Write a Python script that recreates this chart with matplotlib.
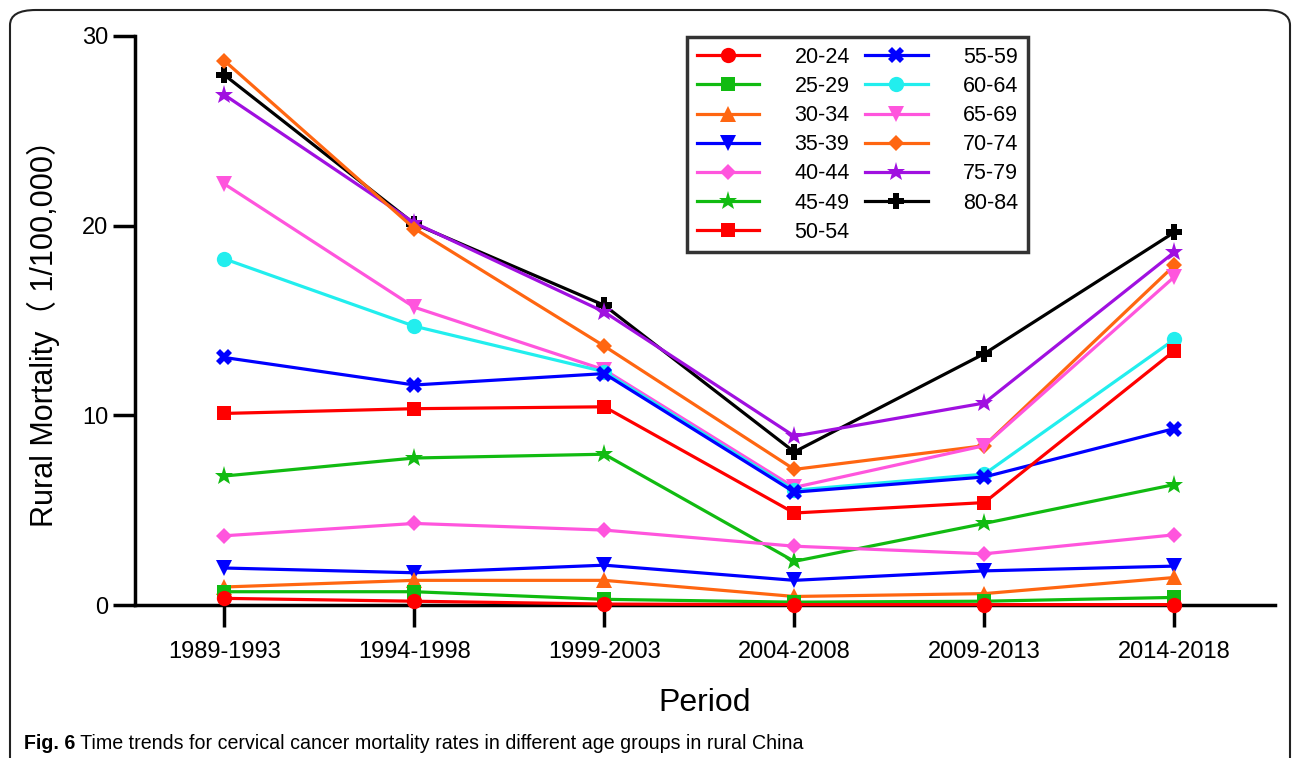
import matplotlib
matplotlib.use('Agg')
import matplotlib.pyplot as plt
from matplotlib.patches import FancyBboxPatch

plt.rcParams['font.family'] = ['Liberation Sans', 'Noto Sans CJK SC', 'DejaVu Sans']

periods = ['1989-1993', '1994-1998', '1999-2003', '2004-2008', '2009-2013', '2014-2018']

age_groups = ['20-24', '25-29', '30-34', '35-39', '40-44', '45-49', '50-54',
              '55-59', '60-64', '65-69', '70-74', '75-79', '80-84']

r_20_24 = [0.35, 0.2, 0.05, 0.02, 0.02, 0.02]
r_25_29 = [0.7, 0.7, 0.3, 0.15, 0.2, 0.4]
r_30_34 = [0.95, 1.3, 1.3, 0.45, 0.6, 1.45]
r_35_39 = [1.95, 1.7, 2.1, 1.3, 1.8, 2.05]
r_40_44 = [3.65, 4.3, 3.95, 3.1, 2.7, 3.7]
r_45_49 = [6.8, 7.75, 7.95, 2.3, 4.3, 6.35]
r_50_54 = [10.1, 10.35, 10.45, 4.85, 5.4, 13.4]
r_55_59 = [13.05, 11.6, 12.2, 5.95, 6.75, 9.3]
r_60_64 = [18.25, 14.7, 12.3, 6.05, 6.9, 14.0]
r_65_69 = [22.2, 15.7, 12.4, 6.2, 8.4, 17.3]
r_70_74 = [28.7, 19.85, 13.65, 7.15, 8.4, 17.9]
r_75_79 = [26.9, 20.15, 15.45, 8.9, 10.65, 18.6]
r_80_84 = [27.95, 20.1, 15.8, 8.07, 13.25, 19.65]

rates = [r_20_24, r_25_29, r_30_34, r_35_39, r_40_44, r_45_49, r_50_54,
         r_55_59, r_60_64, r_65_69, r_70_74, r_75_79, r_80_84]

colors = ['#ff0000', '#11bb11', '#ff6611', '#0000ff', '#ff55dd', '#11bb11', '#ff0000',
          '#0000ff', '#22eeee', '#ff55dd', '#ff6611', '#a010e0', '#000000']
markers = ['o', 's', '^', 'v', 'D', '*', 's', 'X', 'o', 'v', 'D', '*', 'P']
msizes = [11, 10, 11, 11, 8, 14, 10, 12, 11, 11, 8, 14, 11]

fig = plt.figure(figsize=(12.95, 7.58), dpi=100)

# rounded panel frame, open at the bottom
frame = FancyBboxPatch((10 / 1295, -0.05), 1280 / 1295, 1 - 10 / 758 + 0.05,
                       boxstyle='round,pad=0,rounding_size=0.02',
                       transform=fig.transFigure, fill=False,
                       edgecolor='#222222', linewidth=1.5, clip_on=False)
fig.patches.append(frame)

ax = fig.add_axes([135 / 1295, 1 - 605 / 758, 1140 / 1295, 569 / 758])

x = list(range(len(periods)))
lines = []
for i in range(len(age_groups)):
    ln, = ax.plot(x, rates[i], color=colors[i], marker=markers[i], markersize=msizes[i],
                  linewidth=2.3, markeredgewidth=0, label=age_groups[i],
                  zorder=20 - i, clip_on=False)
    lines.append(ln)

ax.set_xlim(-0.47, 5.53)
ax.set_ylim(0, 30)
ax.set_yticks([0, 10, 20, 30])
ax.set_xticks(x)
ax.set_xticklabels(periods)

for s in ['top', 'right']:
    ax.spines[s].set_visible(False)
for s in ['left', 'bottom']:
    ax.spines[s].set_linewidth(2.5)

ax.tick_params(axis='both', direction='out', length=16, width=2.5, labelsize=17)
ax.tick_params(axis='x', pad=10)
ax.tick_params(axis='y', pad=3)

ax.set_xlabel('Period', fontsize=23)
ax.xaxis.set_label_coords(0.5, -(688 - 605) / 569)
ax.set_ylabel('Rural Mortality（ 1/100,000）', fontsize=22)
ax.yaxis.set_label_coords(-0.066, 0.49)

leg = ax.legend(handles=lines, ncol=2, loc='upper left',
                bbox_to_anchor=((687 - 135) / 1140, (605 - 37) / 569),
                borderaxespad=0, fontsize=15.5, frameon=True, fancybox=False,
                handlelength=2.9, handletextpad=1.65, columnspacing=0.7,
                labelspacing=0.38, borderpad=0.45)
leg.get_frame().set_edgecolor('black')
leg.get_frame().set_linewidth(2.5)
leg.set_zorder(30)

t1 = fig.text(24 / 1295, 1 - 749 / 758, 'Fig. 6', fontsize=14.1, fontweight='bold',
              va='baseline', ha='left')
ax.annotate(' Time trends for cervical cancer mortality rates in different age groups in rural China',
            xy=(1, 0), xycoords=t1, va='bottom', ha='left', fontsize=14.1)

fig.savefig('out.png', dpi=100)
